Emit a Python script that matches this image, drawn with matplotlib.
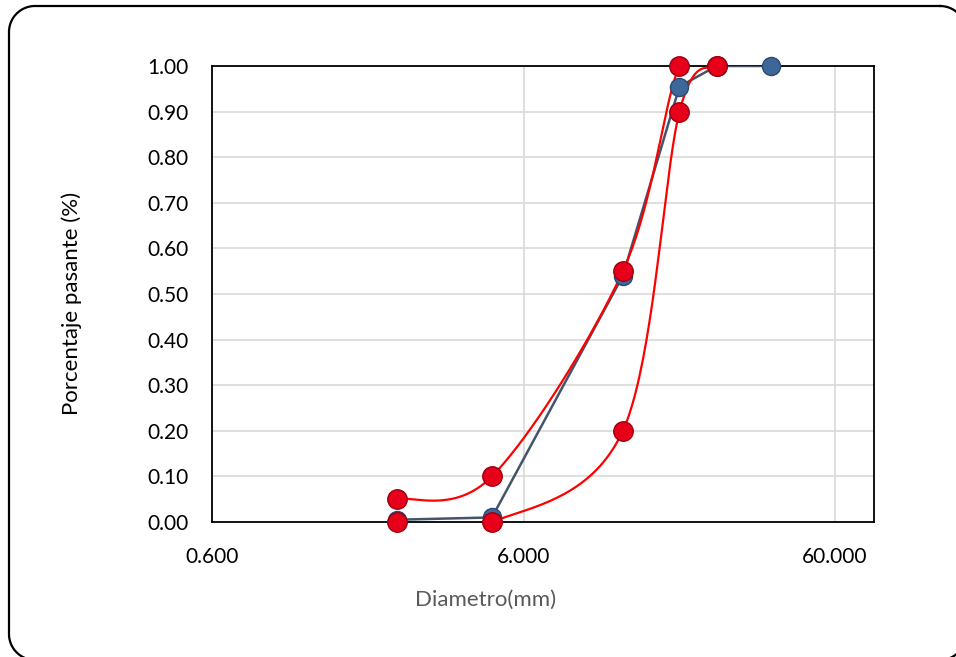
import numpy as np
import matplotlib.pyplot as plt
from matplotlib.ticker import FixedLocator, NullLocator

plt.rcParams['font.family'] = ['Lato', 'DejaVu Sans']

# tamices (mm) y porcentajes pasantes
diam = [2.36, 4.75, 12.5, 19.0, 25.0, 37.5]
pasante = [0.005, 0.01, 0.54, 0.955, 1.0, 1.0]

diam_lim = [2.36, 4.75, 12.5, 19.0, 25.0]
lim_sup = [0.05, 0.10, 0.55, 1.00, 1.00]
lim_inf = [0.00, 0.00, 0.20, 0.90, 1.00]

x_ticks = [0.6, 6.0, 60.0]
x_labels = ["0.600", "6.000", "60.000"]


def smooth(xs, ys, n=40):
    # curva suavizada tipo Excel (Bezier / Catmull-Rom en espacio log-x)
    lx = np.log10(xs)
    ys = np.asarray(ys, float)
    px = np.concatenate([[lx[0]], lx, [lx[-1]]])
    py = np.concatenate([[ys[0]], ys, [ys[-1]]])
    outx, outy = [], []
    t = np.linspace(0, 1, n)
    for i in range(1, len(px) - 2):
        p0, p1, p2, p3 = [np.array([px[j], py[j]]) for j in range(i - 1, i + 3)]
        c1 = p1 + (p2 - p0) / 6
        c2 = p2 - (p3 - p1) / 6
        b = ((1 - t) ** 3)[:, None] * p1 + (3 * (1 - t) ** 2 * t)[:, None] * c1 \
            + (3 * (1 - t) * t ** 2)[:, None] * c2 + (t ** 3)[:, None] * p2
        outx.extend(b[:, 0]); outy.extend(b[:, 1])
    return 10 ** np.array(outx), np.array(outy)


def rounded_rect(x0, y0, x1, y1, r, n=30):
    # contorno como polilinea (pixeles, y hacia abajo)
    pts = []
    corners = [(x1 - r, y0 + r, -90, 0), (x1 - r, y1 - r, 0, 90),
               (x0 + r, y1 - r, 90, 180), (x0 + r, y0 + r, 180, 270)]
    for cx, cy, a0, a1 in corners:
        a = np.radians(np.linspace(a0, a1, n))
        pts.extend(zip(cx + r * np.cos(a), cy + r * np.sin(a)))
    pts.append(pts[0])
    return np.array(pts)


fig = plt.figure(figsize=(9.56, 6.57), dpi=100)

# marco redondeado
bg = fig.add_axes([0, 0, 1, 1])
bg.set_xlim(0, 956)
bg.set_ylim(657, 0)
bg.axis('off')
rr = rounded_rect(9, 6, 966, 660, 26)
bg.plot(rr[:, 0], rr[:, 1], color='black', lw=1.6)

ax = fig.add_axes([212 / 956, 1 - 522 / 657, 662 / 956, 456 / 657])

ax.plot(diam, pasante, color='#44546A', lw=1.8, zorder=3)
for yy in (lim_sup, lim_inf):
    sx, sy = smooth(diam_lim, yy)
    ax.plot(sx, sy, color='#FF0000', lw=1.6, zorder=3)

ax.plot(diam, pasante, ls='none', marker='o', ms=13, mfc='#3D6799',
        mec='#2A4A70', mew=1, zorder=4, clip_on=False)
for yy in (lim_sup, lim_inf):
    ax.plot(diam_lim, yy, ls='none', marker='o', ms=14, mfc='#E8001A',
            mec='#9A0010', mew=1, zorder=5, clip_on=False)

ax.set_xscale('log')
ax.set_xlim(0.6, 80)
ax.set_ylim(0, 1.0)
ax.xaxis.set_major_locator(FixedLocator(x_ticks))
ax.xaxis.set_minor_locator(NullLocator())
ax.set_xticklabels(x_labels)
ax.set_yticks(np.arange(0, 1.01, 0.1))
ax.set_yticklabels([f"{v:.2f}" for v in np.arange(0, 1.01, 0.1)])
ax.tick_params(labelsize=15, length=0)
ax.tick_params(axis='y', pad=17)
ax.tick_params(axis='x', pad=18)
ax.grid(True, color='#D9D9D9', lw=1.2, zorder=0)
ax.set_axisbelow(True)
for s in ax.spines.values():
    s.set_color('black')
    s.set_linewidth(1.3)

ax.set_xlabel("Diametro(mm)", fontsize=16, color='#595959')
ax.xaxis.set_label_coords(486 / 956, 1 - 600 / 657, transform=fig.transFigure)
ax.xaxis.label.set_va('center')
ax.set_ylabel("Porcentaje pasante (%)", fontsize=16)
ax.yaxis.set_label_coords(72 / 956, 1 - 303 / 657, transform=fig.transFigure)
ax.yaxis.label.set_va('center')

plt.savefig("out.png", dpi=100)
